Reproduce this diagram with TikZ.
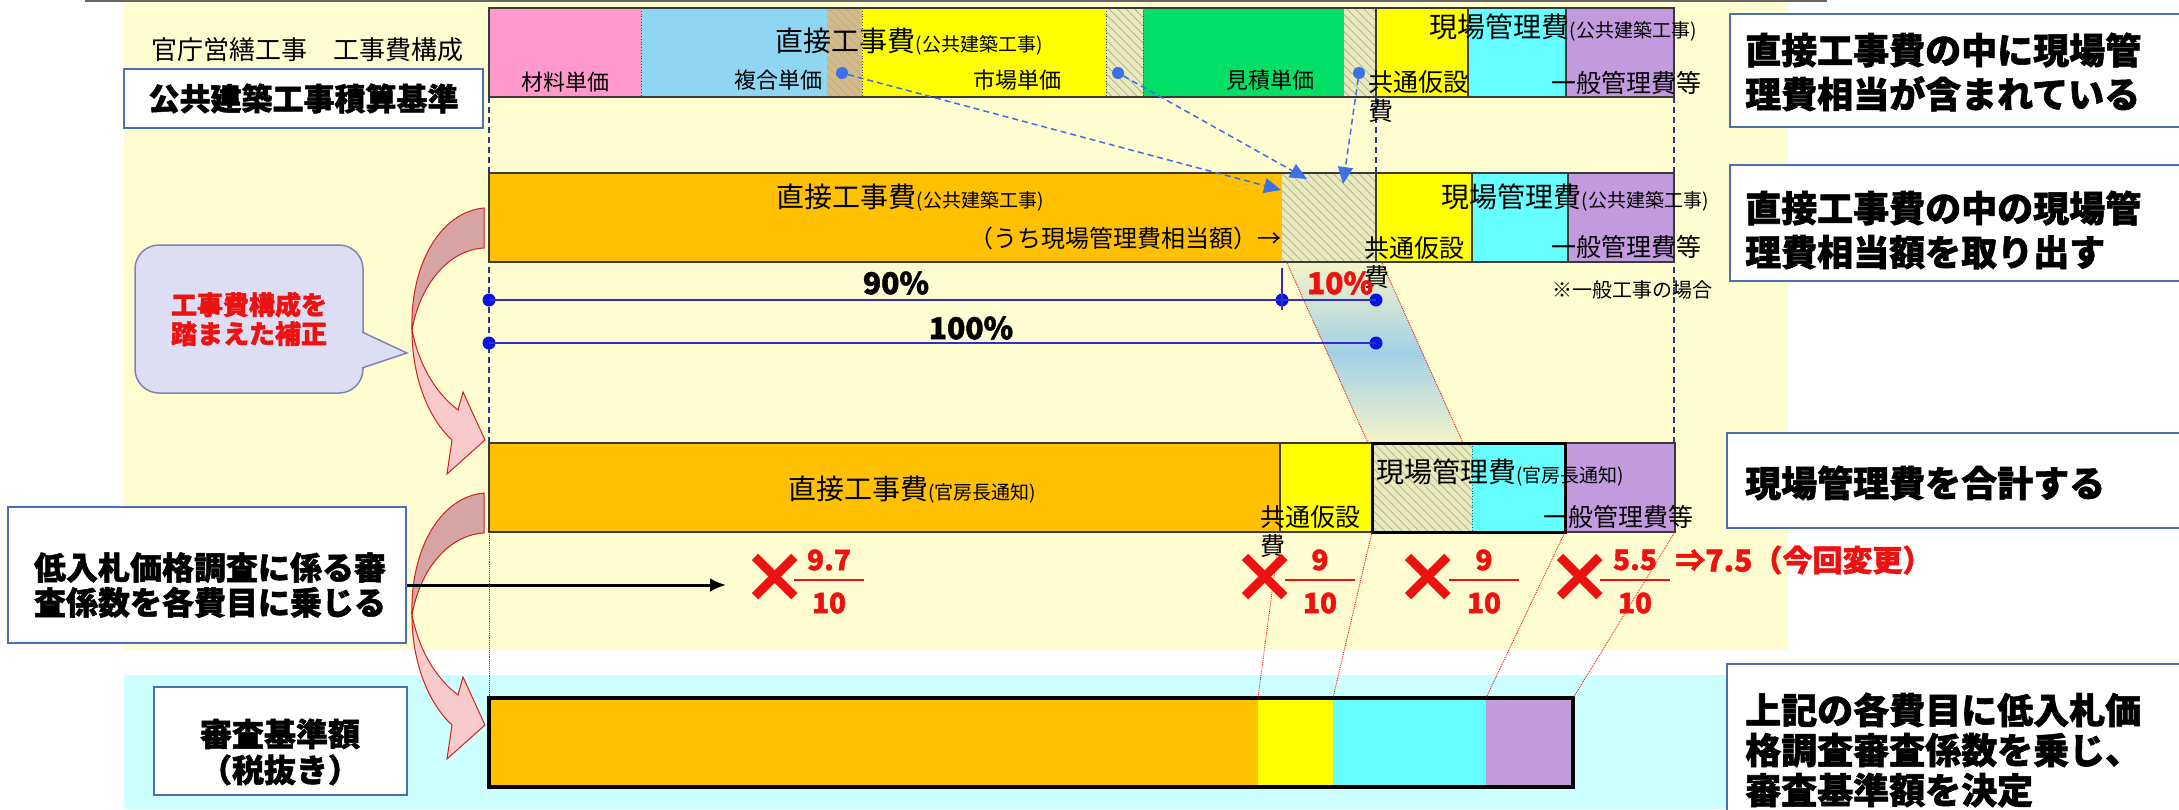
\documentclass[tikz,border=0pt]{standalone}
\usepackage{fontspec}
\setmainfont{Noto Sans CJK JP}[BoldFeatures={FakeBold=1.5}]
\newfontfamily\symfont{DejaVu Sans}
\usetikzlibrary{arrows.meta,patterns.meta,positioning}

\definecolor{bgyellow}{HTML}{FFFCCF}
\definecolor{bgcyan}{HTML}{CCFFFF}
\definecolor{matpink}{HTML}{FF99CC}
\definecolor{skyblue}{HTML}{8FD6F2}
\definecolor{tanfill}{HTML}{D6B98A}
\definecolor{ylw}{HTML}{FFFF00}
\definecolor{grn}{HTML}{00E066}
\definecolor{cyn}{HTML}{66FFFF}
\definecolor{lav}{HTML}{C49ADE}
\definecolor{org}{HTML}{FFC000}
\definecolor{hatchbg}{HTML}{E9E9BE}
\definecolor{hatchline}{HTML}{B0B088}
\definecolor{barline}{HTML}{3A3A3A}
\definecolor{guide}{HTML}{2B3990}
\definecolor{boxblue}{HTML}{4A6FB5}
\definecolor{dotblue}{HTML}{0A14E0}
\definecolor{dimblue}{HTML}{3030C8}
\definecolor{dashblue}{HTML}{3D6FE8}
\definecolor{redtxt}{HTML}{EE1111}
\definecolor{arrowline}{HTML}{D02020}
\definecolor{arrowpink}{HTML}{F9CACA}
\definecolor{arrowdark}{HTML}{D7A4A4}
\definecolor{bubblefill}{HTML}{DDDDF3}
\definecolor{bubbleline}{HTML}{7F83B8}
\definecolor{bandtop}{HTML}{F4F4C8}
\definecolor{bandmid}{HTML}{A2D0E6}

\newcommand\bigpart[1]{{\fontsize{28}{30}\selectfont #1}}
\newcommand\smallpart[1]{{\fontsize{19}{21}\selectfont #1}}

\tikzset{
  barbox/.style={draw=barline, line width=1.5pt},
  hatchfill/.style={fill=hatchbg, postaction={pattern color=hatchline, pattern={Lines[angle=-45,distance=6pt,line width=0.7pt]}}},
  vguide/.style={draw=guide, line width=1.2pt, dash pattern=on 6pt off 4pt},
  segline/.style={draw=black!70, dotted, line width=0.8pt},
  redguide/.style={draw=redtxt, densely dotted, line width=0.9pt},
  itemtxt/.style={inner sep=0pt, font=\fontsize{22}{26}\selectfont},
  headtxt/.style={inner sep=0pt, font=\fontsize{25}{29}\selectfont},
  notebox/.style={draw=boxblue, line width=2pt, fill=white},
  notetxt/.style={inner sep=0pt, align=left, font=\bfseries\fontsize{36}{44}\selectfont},
  dimdot/.style={circle, fill=dotblue, inner sep=0pt, minimum size=13pt},
  pickdot/.style={circle, fill=dashblue, inner sep=0pt, minimum size=12pt},
  dimline/.style={draw=dimblue, line width=2pt},
  pct/.style={inner sep=0pt, font=\bfseries\fontsize{30}{30}\selectfont},
  xmark/.style={inner sep=0pt, text=redtxt, font=\symfont\bfseries\fontsize{78}{78}\selectfont},
  fractxt/.style={inner sep=0pt, text=redtxt, font=\bfseries\fontsize{28}{28}\selectfont},
  takeout/.style={draw=dashblue, line width=1.5pt, dash pattern=on 6pt off 4pt, -{Triangle[length=17pt,width=15pt]}},
  bendarrow/.style={draw=arrowline, line width=1pt},
}

\begin{document}
\begin{tikzpicture}[x=1pt,y=-1pt]
\useasboundingbox (0,0) rectangle (2179,809);

% backgrounds
\fill[bgyellow] (124,0) rectangle (1788,650);
\fill[bgcyan] (124,675) rectangle (1788,809);
\draw[black!60, line width=2pt] (85,1) -- (1827,1);

% guides behind the bars
\draw[vguide] (489,97) -- (489,443);
\draw[vguide] (1376,97) -- (1376,360);
\draw[vguide] (1674,97) -- (1674,443);

% row 1: 公共建築工事積算基準
\fill[matpink] (489,8) rectangle (641,97);
\fill[skyblue] (641,8) rectangle (827,97);
\path[hatchfill, fill=tanfill] (827,8) rectangle (862,97);
\fill[ylw] (862,8) rectangle (1106,97);
\path[hatchfill] (1106,8) rectangle (1143,97);
\fill[grn] (1143,8) rectangle (1344,97);
\path[hatchfill] (1344,8) rectangle (1376,97);
\fill[ylw] (1376,8) rectangle (1468,97);
\fill[cyn] (1468,8) rectangle (1566,97);
\fill[lav] (1566,8) rectangle (1674,97);
\foreach \x in {641,862,1106,1143} \draw[segline] (\x,8) -- (\x,97);
\foreach \x in {1376,1468,1566} \draw[barbox] (\x,8) -- (\x,97);
\draw[barbox] (489,8) rectangle (1674,97);

% row 2
\fill[org] (489,173) rectangle (1282,262);
\path[hatchfill] (1282,173) rectangle (1376,262);
\fill[ylw] (1376,173) rectangle (1472,262);
\fill[cyn] (1472,173) rectangle (1568,262);
\fill[lav] (1568,173) rectangle (1674,262);
\foreach \x in {1376,1472,1568} \draw[barbox] (\x,173) -- (\x,262);
\draw[barbox] (489,173) rectangle (1674,262);

% band from row 2 to row 3
\coordinate (bandA) at (1287,263);
\coordinate (bandB) at (1382,263);
\coordinate (bandC) at (1463,443);
\coordinate (bandD) at (1368,443);
\shade[top color=bandtop, bottom color=bandtop, middle color=bandmid] (bandA) -- (bandB) -- (bandC) -- (bandD) -- cycle;
\draw[redguide] (bandA) -- (bandD) (bandB) -- (bandC);

% row 3
\fill[org] (489,443) rectangle (1280,532);
\fill[ylw] (1280,443) rectangle (1372,532);
\path[hatchfill] (1372,443) rectangle (1472,532);
\fill[cyn] (1472,443) rectangle (1565,532);
\fill[lav] (1565,443) rectangle (1675,532);
\draw[barbox] (1280,443) -- (1280,532);
\draw[segline] (1472,443) -- (1472,532);
\draw[barbox] (489,443) rectangle (1675,532);
\draw[black, line width=3pt] (1372,443) rectangle (1565,532);

% row 4
\fill[org] (489,698) rectangle (1258,787);
\fill[ylw] (1258,698) rectangle (1333,787);
\fill[cyn] (1333,698) rectangle (1486,787);
\fill[lav] (1486,698) rectangle (1573,787);
\draw[black, line width=4pt] (489,698) rectangle (1573,787);

% guides row 3 -> row 4
\draw[redguide] (489,532) -- (489,698);
\draw[redguide] (1280,532) -- (1258,698);
\draw[redguide] (1372,532) -- (1333,698);
\draw[redguide] (1565,532) -- (1486,698);
\draw[redguide] (1675,532) -- (1573,698);

% labels row 1
\node[inner sep=0pt] (titl) at (307,50) {\fontsize{26}{28}\selectfont 官庁営繕工事　工事費構成};
\node[notebox, minimum width=359pt, minimum height=59pt] (stdbox) at (303.5,98.5) {};
\node[inner sep=0pt, font=\bfseries\fontsize{31}{33}\selectfont] (stdtxt) at (stdbox) {公共建築工事積算基準};
\node[inner sep=0pt] (dir1) at (909,42) {\bigpart{直接工事費}\smallpart{(公共建築工事)}};
\node[itemtxt] (mat) at (565,82) {材料単価};
\node[itemtxt] (cmp) at (778,80) {複合単価};
\node[itemtxt] (mkt) at (1017,80) {市場単価};
\node[itemtxt] (est) at (1270,80) {見積単価};
\node[inner sep=0pt] (site1) at (1563,28) {\bigpart{現場管理費}\smallpart{(公共建築工事)}};
\node[headtxt, anchor=north west, align=left] (tmp1) at (1368,70) {共通仮設\\費};
\node[headtxt, anchor=east] (gen1) at (1702,83) {一般管理費等};

% labels row 2
\node[inner sep=0pt] (dir2) at (910,198) {\bigpart{直接工事費}\smallpart{(公共建築工事)}};
\node[inner sep=0pt, anchor=east, font=\fontsize{24}{26}\selectfont] (share) at (1282,238) {（うち現場管理費相当額）→};
\node[inner sep=0pt] (site2) at (1575,198) {\bigpart{現場管理費}\smallpart{(公共建築工事)}};
\node[headtxt, anchor=north west, align=left] (tmp2) at (1364,236) {共通仮設\\費};
\node[headtxt, anchor=east] (gen2) at (1702,247) {一般管理費等};
\node[inner sep=0pt, font=\fontsize{20}{22}\selectfont] (case) at (1632,290) {※一般工事の場合};

% labels row 3
\node[inner sep=0pt] (dir3) at (912,490) {\bigpart{直接工事費}\smallpart{(官房長通知)}};
\node[inner sep=0pt, anchor=west] (site3) at (1376,473) {\bigpart{現場管理費}\smallpart{(官房長通知)}};
\node[headtxt, anchor=north west, align=left] (tmp3) at (1260,505) {共通仮設\\費};
\node[headtxt, anchor=east] (gen3) at (1694,517) {一般管理費等};

% take-out arrows
\node[pickdot] (p1) at (842,73) {};
\node[pickdot] (p2) at (1118,73) {};
\node[pickdot] (p3) at (1359,73) {};
\coordinate (t1) at (1281,190);
\coordinate (t2) at (1307,179);
\coordinate (t3) at (1343,184);
\draw[takeout] (p1) -- (t1);
\draw[takeout] (p2) -- (t2);
\draw[takeout] (p3) -- (t3);

% 90% / 10% / 100%
\node[dimdot] (a90) at (489,300) {};
\node[dimdot] (b90) at (1282,300) {};
\node[dimdot] (c10) at (1376,300) {};
\node[dimdot] (a100) at (489,343) {};
\node[dimdot] (b100) at (1376,343) {};
\draw[dimline] (a90.center) -- (c10.center);
\draw[dimline] (b90.center) ++(0,-32) -- ++(0,42);
\draw[dimline] (a100.center) -- (b100.center);
\node[pct] (p90) at (896,283) {90\%};
\node[pct, text=redtxt] (p10) at (1340,283) {10\%};
\node[pct] (p100) at (971,328) {100\%};

% coefficients
\foreach \mx/\fx/\num [count=\i] in {775/829/9.7, 1265/1320/9, 1428/1484/9, 1580/1635/5.5}{
  \node[xmark] (mul\i) at (\mx,578) {×};
  \node[fractxt] (num\i) at (\fx,560) {\num};
  \node[fractxt] (den\i) at (\fx,603) {10};
  \draw[redtxt, line width=2pt] (\fx-35,580) -- (\fx+35,580);
}
\node[fractxt, font=\bfseries\fontsize{30}{30}\selectfont, right=18pt of num4] (chg) {⇒7.5（今回変更）};

% curved arrows
\foreach \dy in {0,285}{
  \begin{scope}[shift={(0,\dy)}]
    \filldraw[bendarrow, fill=arrowdark] (484,208) .. controls (440,212) and (410,265) .. (412,330)
      .. controls (420,285) and (448,250) .. (484,248) -- cycle;
    \filldraw[bendarrow, fill=arrowpink] (412,330) .. controls (412,380) and (430,420) .. (452,440)
      -- (447,474) -- (485,440) -- (463,392) -- (458,410) .. controls (432,390) and (418,360) .. (412,330) -- cycle;
  \end{scope}
}

% callout
\node[draw=bubbleline, fill=bubblefill, line width=1.5pt, rounded corners=24pt, minimum width=228pt, minimum height=148pt,
  align=center, text=redtxt, font=\bfseries\fontsize{26}{29}\selectfont] (bubble) at (249,319) {工事費構成を\\踏まえた補正};
\coordinate (bubtip) at (407,353);
\filldraw[fill=bubblefill, draw=bubbleline, line width=1.5pt] (362,332) -- (bubtip) -- (362,368);

% left notes
\node[notebox, minimum width=398pt, minimum height=136pt] (lowbox) at (207,575) {};
\node[inner sep=0pt, align=center, font=\bfseries\fontsize{32}{35}\selectfont] (lowtxt) at (210,585) {低入札価格調査に係る審\\査係数を各費目に乗じる};
\coordinate (mulend) at (726,585);
\draw[line width=3pt, -{Latex[length=16pt,width=14pt]}] (lowbox.east |- lowtxt) -- (mulend);
\node[notebox, minimum width=253pt, minimum height=108pt] (taxbox) at (280,741) {};
\node[inner sep=0pt, align=center, font=\bfseries\fontsize{32}{36}\selectfont] (taxtxt) at (280,752) {審査基準額\\（税抜き）};

% right notes
\node[notebox, anchor=north west, minimum width=480pt, minimum height=113pt] (note1) at (1729,13) {};
\node[notetxt, anchor=west] (note1txt) at (1745,72) {直接工事費の中に現場管\\理費相当が含まれている};
\node[notebox, anchor=north west, minimum width=480pt, minimum height=116pt] (note2) at (1729,164) {};
\node[notetxt, anchor=west] (note2txt) at (1745,230) {直接工事費の中の現場管\\理費相当額を取り出す};
\node[notebox, anchor=north west, minimum width=480pt, minimum height=95pt] (note3) at (1726,432) {};
\node[notetxt, anchor=west] (note3txt) at (1745,483) {現場管理費を合計する};
\node[notebox, anchor=north west, minimum width=480pt, minimum height=170pt] (note4) at (1726,663) {};
\node[notetxt, anchor=west, font=\bfseries\fontsize{36}{40}\selectfont] (note4txt) at (1745,750) {上記の各費目に低入札価\\格調査審査係数を乗じ、\\審査基準額を決定};

\end{tikzpicture}
\end{document}
